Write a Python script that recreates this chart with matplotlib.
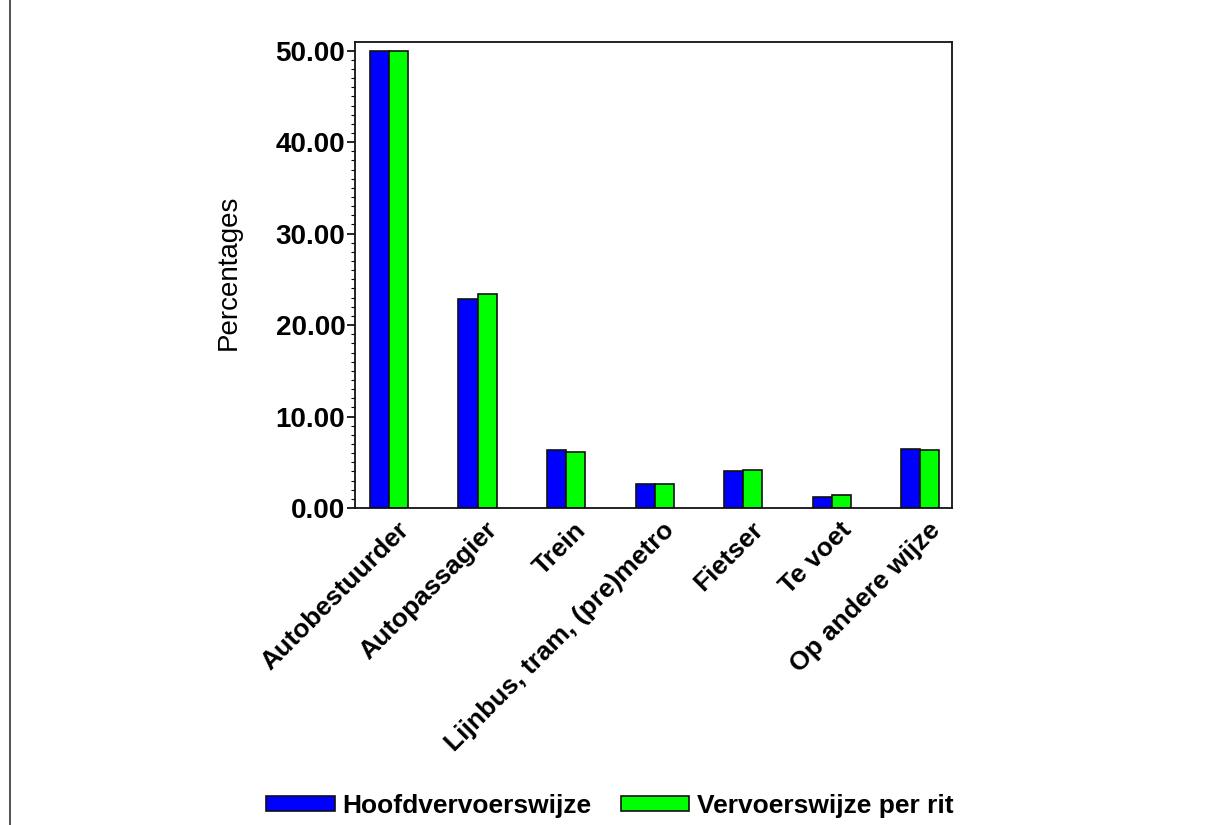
import matplotlib
matplotlib.use("Agg")
import matplotlib.pyplot as plt
import matplotlib.transforms as mtransforms
from matplotlib.lines import Line2D
from matplotlib.ticker import MultipleLocator, FormatStrFormatter
import numpy as np

categories = ["Autobestuurder", "Autopassagier", "Trein", "Lijnbus, tram, (pre)metro",
              "Fietser", "Te voet", "Op andere wijze"]
hoofd = [50.0, 22.9, 6.3, 2.65, 4.0, 1.15, 6.5]
per_rit = [50.0, 23.4, 6.1, 2.65, 4.15, 1.45, 6.3]
series_names = ["Hoofdvervoerswijze", "Vervoerswijze per rit"]

plt.rcParams['font.family'] = ['Liberation Sans', 'DejaVu Sans']

fig = plt.figure(figsize=(12.15, 8.25), dpi=100)
ax = fig.add_axes([355 / 1215, 1 - 508 / 825, (952 - 355) / 1215, (508 - 42) / 825])

x = np.arange(len(categories))
w = 0.215
ax.bar(x - w / 2, hoofd, w, color="#0000ff", edgecolor="#111111", linewidth=1.2,
       label=series_names[0])
ax.bar(x + w / 2, per_rit, w, color="#00ff00", edgecolor="#111111", linewidth=1.2,
       label=series_names[1])

ax.set_xlim(-0.384, 6.36)
ax.set_ylim(0, 50.95)

ax.yaxis.set_major_locator(MultipleLocator(10))
ax.yaxis.set_minor_locator(MultipleLocator(1))
ax.yaxis.set_major_formatter(FormatStrFormatter("%.2f"))
ax.tick_params(axis="y", which="major", length=6, width=1.2, labelsize=20, pad=1)
ax.tick_params(axis="y", which="minor", length=3, width=0.8)
for lab in ax.get_yticklabels():
    lab.set_fontweight("bold")

ax.set_xticks(x)
ax.set_xticklabels(categories, rotation=45, ha="right", va="top",
                   rotation_mode="anchor", fontsize=19, fontweight="bold")
ax.tick_params(axis="x", length=0, pad=7)
offset = mtransforms.ScaledTranslation(8 / 100, 0, fig.dpi_scale_trans)
for lab in ax.get_xticklabels():
    lab.set_transform(lab.get_transform() + offset)

ax.set_ylabel("Percentages", fontsize=20)
ax.yaxis.set_label_coords(-0.19, 0.505)

for s in ax.spines.values():
    s.set_linewidth(1.3)
    s.set_color("#111111")

fig.legend(loc="center", bbox_to_anchor=(610 / 1215, 1 - 806 / 825), ncol=2,
           frameon=False, prop={"size": 19, "weight": "bold"},
           handlelength=2.6, handleheight=0.5, handletextpad=0.3, columnspacing=1.1)

fig.add_artist(Line2D([9.5 / 1215, 9.5 / 1215], [0, 1], color="#333333", linewidth=1.2))

fig.savefig("out.png", dpi=100, facecolor="white")
